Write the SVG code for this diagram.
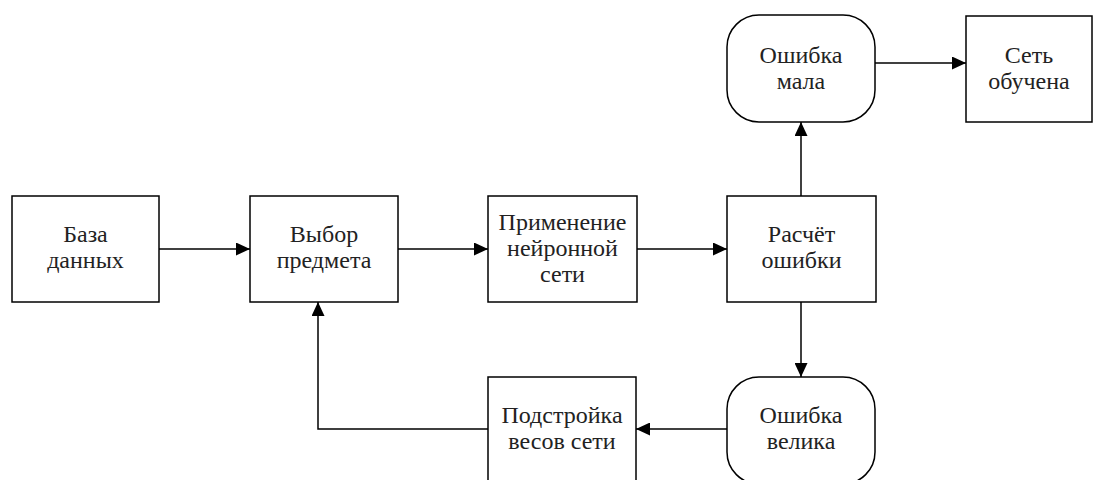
<svg xmlns="http://www.w3.org/2000/svg" width="1103" height="480" viewBox="0 0 1103 480">
<defs>
<marker id="arr" viewBox="0 0 14 13" refX="14" refY="6.5" markerWidth="14" markerHeight="13" markerUnits="userSpaceOnUse" orient="auto">
<path d="M0,0 L14,6.5 L0,13 z" fill="#000"/>
</marker>
<style>
.box{fill:#fff;stroke:#000;stroke-width:1.5}
.t{font-family:"Liberation Serif","Times New Roman",serif;font-size:24px;fill:#222;text-anchor:middle}
.c{fill:none;stroke:#000;stroke-width:1.5;marker-end:url(#arr)}
</style>
</defs>
<rect width="1103" height="480" fill="#fff"/>
<g id="n1"><rect class="box" x="12" y="196" width="147" height="106"/>
<text class="t" x="85.5" y="242">База</text><text class="t" x="85.5" y="268">данных</text></g>
<g id="n2"><rect class="box" x="250" y="196" width="148" height="106"/>
<text class="t" x="324" y="242">Выбор</text><text class="t" x="324" y="268">предмета</text></g>
<g id="n3"><rect class="box" x="488" y="196" width="149" height="106"/>
<text class="t" x="562.5" y="230">Применение</text><text class="t" x="562.5" y="256">нейронной</text><text class="t" x="562.5" y="282">сети</text></g>
<g id="n4"><rect class="box" x="727" y="196" width="149" height="106"/>
<text class="t" x="801.5" y="242">Расчёт</text><text class="t" x="801.5" y="268">ошибки</text></g>
<g id="n5"><rect class="box" x="727" y="15" width="148" height="107" rx="32" ry="32"/>
<text class="t" x="801" y="63">Ошибка</text><text class="t" x="801" y="89">мала</text></g>
<g id="n6"><rect class="box" x="966" y="16" width="126" height="106"/>
<text class="t" x="1029" y="63">Сеть</text><text class="t" x="1029" y="89">обучена</text></g>
<g id="n7"><rect class="box" x="727" y="377" width="148" height="107" rx="32" ry="32"/>
<text class="t" x="801" y="423">Ошибка</text><text class="t" x="801" y="449">велика</text></g>
<g id="n8"><rect class="box" x="488" y="377" width="148" height="106"/>
<text class="t" x="562" y="423">Подстройка</text><text class="t" x="562" y="449">весов сети</text></g>
<g id="connectors">
<path class="c" d="M159,249 H250"/>
<path class="c" d="M398,249 H488"/>
<path class="c" d="M637,249 H727"/>
<path class="c" d="M801,196 V122"/>
<path class="c" d="M875,63 H966"/>
<path class="c" d="M801,302 V377"/>
<path class="c" d="M727,429 H636"/>
<path class="c" d="M488,429 H318 V302"/>
</g>
</svg>
